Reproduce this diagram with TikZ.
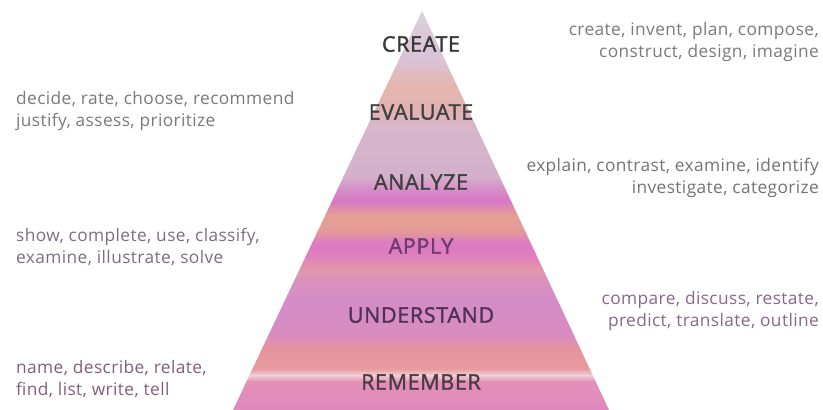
\documentclass[tikz,border=0pt]{standalone}
\usepackage{fontspec}
\setmainfont{Open Sans}
\newfontfamily\lblfont{Open Sans}[FakeBold=1.6,LetterSpace=3]
\newfontfamily\vrbfont{Open Sans}[LetterSpace=2.3]
\begin{document}
\begin{tikzpicture}[x=1pt,y=-1pt,
  lvl/.style={font=\lblfont\fontsize{21.5}{24}\selectfont, anchor=center, inner sep=0pt},
  verbs/.style={font=\vrbfont\fontsize{17.3}{22.5}\selectfont, inner sep=0pt},
  lverbs/.style={verbs, anchor=west, align=left},
  rverbs/.style={verbs, anchor=east, align=right}]
\useasboundingbox (0,0) rectangle (823,410);
\fill[white] (0,0) rectangle (823,410);
\definecolor{s0}{HTML}{DCCFDC}
\definecolor{s1}{HTML}{D9C2D6}
\definecolor{s2}{HTML}{E6B6AE}
\definecolor{s3}{HTML}{E2B2B2}
\definecolor{s4}{HTML}{D6B6CC}
\definecolor{s5}{HTML}{D4B0CA}
\definecolor{s6}{HTML}{D68CC8}
\definecolor{s7}{HTML}{D878C4}
\definecolor{s8}{HTML}{E4A092}
\definecolor{s9}{HTML}{E49A98}
\definecolor{s10}{HTML}{DC7AC4}
\definecolor{s11}{HTML}{E07EBE}
\definecolor{s12}{HTML}{E296A8}
\definecolor{s13}{HTML}{D890C0}
\definecolor{s14}{HTML}{D48CC8}
\definecolor{s15}{HTML}{D88CC0}
\definecolor{s16}{HTML}{E6949C}
\definecolor{s17}{HTML}{E89CA0}
\definecolor{s18}{HTML}{EED4DA}
\definecolor{s19}{HTML}{E490B6}
\definecolor{s20}{HTML}{E088C0}
\coordinate (apex) at (422,11);
\coordinate (bl) at (233,410);
\coordinate (br) at (609,410);
\begin{scope}
\clip (apex) -- (br) -- (bl) -- cycle;
\foreach \ya/\yb/\ca/\cb in {
  11/60/s0/s1, 60/85/s1/s2, 85/110/s2/s3, 110/130/s3/s4, 130/176/s4/s5,
  176/190/s5/s6, 190/201/s6/s7, 201/215/s7/s8, 215/231/s8/s9, 231/243/s9/s10,
  243/256/s10/s11, 256/268/s11/s12, 268/285/s12/s13, 285/300/s13/s14,
  300/335/s14/s15, 335/350/s15/s16, 350/369/s16/s17, 369/375/s17/s18,
  375/381/s18/s19, 381/411/s19/s20}
  \shade[top color=\ca, bottom color=\cb] (220,\ya) rectangle (620,\yb+0.6);
\end{scope}
\node[lvl, text=black!78] (create) at (421,44) {CREATE};
\node[lvl, text=black!75] (evaluate) at (421,112) {EVALUATE};
\node[lvl, text=black!75] (analyze) at (421,182) {ANALYZE};
\node[lvl, text={rgb,255:red,110;green,60;blue,110}] (apply) at (421,246) {APPLY};
\node[lvl, text={rgb,255:red,80;green,50;blue,85}] (understand) at (421,315) {UNDERSTAND};
\node[lvl, text={rgb,255:red,75;green,60;blue,68}] (remember) at (421,382) {REMEMBER};
\node[rverbs, text=black!52] (vcreate) at (819,42) {create, invent, plan, compose,\\construct, design, imagine};
\node[lverbs, text=black!52] (vevaluate) at (16,111) {decide, rate, choose, recommend\\justify, assess, prioritize};
\node[rverbs, text=black!55] (vanalyze) at (819,178) {explain, contrast, examine, identify\\investigate, categorize};
\node[lverbs, text={rgb,255:red,125;green,110;blue,128}] (vapply) at (16,247) {show, complete, use, classify,\\examine, illustrate, solve};
\node[rverbs, text={rgb,255:red,135;green,105;blue,138}] (vunderstand) at (819,311) {compare, discuss, restate,\\predict, translate, outline};
\node[lverbs, text={rgb,255:red,130;green,95;blue,122}] (vremember) at (16,379) {name, describe, relate,\\find, list, write, tell};
\end{tikzpicture}
\end{document}
